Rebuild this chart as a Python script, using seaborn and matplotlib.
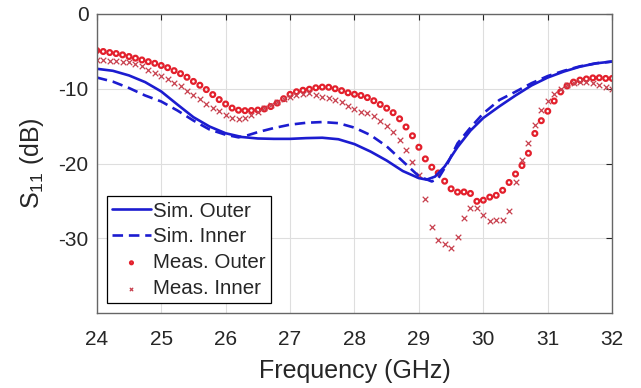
import matplotlib
matplotlib.use('Agg')
import matplotlib.pyplot as plt
import seaborn as sns

# --- measured S11 (every 0.1 GHz)
freq_meas = [24.0, 24.1, 24.2, 24.3, 24.4, 24.5, 24.6, 24.7, 24.8, 24.9,
             25.0, 25.1, 25.2, 25.3, 25.4, 25.5, 25.6, 25.7, 25.8, 25.9,
             26.0, 26.1, 26.2, 26.3, 26.4, 26.5, 26.6, 26.7, 26.8, 26.9,
             27.0, 27.1, 27.2, 27.3, 27.4, 27.5, 27.6, 27.7, 27.8, 27.9,
             28.0, 28.1, 28.2, 28.3, 28.4, 28.5, 28.6, 28.7, 28.8, 28.9,
             29.0, 29.1, 29.2, 29.3, 29.4, 29.5, 29.6, 29.7, 29.8, 29.9,
             30.0, 30.1, 30.2, 30.3, 30.4, 30.5, 30.6, 30.7, 30.8, 30.9,
             31.0, 31.1, 31.2, 31.3, 31.4, 31.5, 31.6, 31.7, 31.8, 31.9,
             32.0]
meas_outer = [-4.89, -5.02, -5.16, -5.29, -5.47, -5.69, -5.91, -6.15, -6.38, -6.60,
              -6.89, -7.18, -7.58, -7.98, -8.46, -9.02, -9.53, -10.11, -10.78, -11.45,
              -12.04, -12.58, -12.87, -12.93, -12.91, -12.85, -12.70, -12.38, -11.91, -11.33,
              -10.75, -10.40, -10.20, -10.06, -9.87, -9.78, -9.80, -10.00, -10.25, -10.54,
              -10.74, -10.90, -11.18, -11.60, -12.10, -12.60, -13.20, -14.02, -15.11, -16.29,
              -17.82, -19.38, -20.49, -21.26, -22.36, -23.38, -23.82, -23.80, -24.00, -25.05,
              -24.90, -24.49, -24.25, -23.58, -22.53, -21.40, -20.27, -18.62, -15.98, -14.27,
              -13.00, -11.64, -10.42, -9.62, -9.11, -8.84, -8.69, -8.55, -8.53, -8.62,
              -8.62]
meas_inner = [-6.15, -6.20, -6.24, -6.29, -6.36, -6.48, -6.71, -6.98, -7.47, -7.85,
              -8.25, -8.69, -9.20, -9.66, -10.25, -10.86, -11.42, -12.00, -12.53, -13.00,
              -13.53, -13.85, -14.10, -13.93, -13.55, -13.10, -12.60, -12.20, -11.80, -11.40,
              -11.10, -10.80, -10.65, -10.60, -10.89, -11.16, -11.24, -11.47, -11.78, -12.27,
              -12.71, -13.11, -13.29, -13.64, -14.27, -15.02, -15.82, -16.80, -18.13, -19.80,
              -21.50, -24.71, -28.50, -30.27, -30.71, -31.30, -29.85, -27.30, -25.93, -25.93,
              -26.88, -27.70, -27.53, -27.53, -26.30, -22.53, -19.56, -17.24, -14.82, -12.89,
              -11.60, -10.73, -10.08, -9.55, -9.20, -9.05, -9.06, -9.20, -9.45, -9.70,
              -9.98]

# --- simulated S11
freq_sim_outer = [24.0, 24.25, 24.5, 24.75, 25.0, 25.25, 25.5, 25.75, 26.0, 26.25,
                  26.5, 26.75, 27.0, 27.25, 27.5, 27.75, 28.0, 28.25, 28.5, 28.75,
                  29.0, 29.12, 29.25, 29.4, 29.6, 29.8, 30.0, 30.25, 30.5, 30.75,
                  31.0, 31.25, 31.5, 31.75, 32.0]
sim_outer = [-7.33, -7.60, -8.22, -9.11, -10.36, -12.10, -13.80, -15.05, -15.95, -16.45,
             -16.65, -16.70, -16.70, -16.60, -16.55, -16.75, -17.40, -18.40, -19.60, -21.00,
             -21.95, -22.15, -21.75, -20.40, -17.80, -15.60, -13.90, -12.35, -10.90, -9.55,
             -8.50, -7.70, -7.05, -6.60, -6.36]
freq_sim_inner = [24.0, 24.25, 24.5, 24.75, 25.0, 25.25, 25.5, 25.75, 26.0, 26.2,
                  26.35, 26.5, 26.75, 27.0, 27.25, 27.5, 27.75, 28.0, 28.25, 28.5,
                  28.75, 29.0, 29.2, 29.3, 29.45, 29.6, 29.8, 30.0, 30.25, 30.5,
                  30.75, 31.0, 31.25, 31.5, 31.75, 32.0]
sim_inner = [-8.50, -9.05, -9.90, -10.90, -11.70, -12.90, -14.25, -15.45, -16.15, -16.50,
             -16.20, -15.80, -15.25, -14.80, -14.55, -14.45, -14.60, -15.20, -16.20, -17.70,
             -19.70, -21.70, -22.40, -22.00, -19.90, -17.30, -15.20, -13.30, -11.50, -10.40,
             -9.25, -8.30, -7.60, -7.00, -6.60, -6.36]

sns.set_style('white')
plt.rcParams['font.family'] = ['Liberation Sans', 'DejaVu Sans']
plt.rcParams['axes.unicode_minus'] = False

fig = plt.figure(figsize=(6.41, 3.88), dpi=100)
ax = fig.add_axes([0.151, 0.193, 0.804, 0.771])

blue = '#1c1cd0'
red = '#e3202c'
red_x = '#c8404e'

sns.lineplot(x=freq_sim_outer, y=sim_outer, ax=ax, color=blue, linewidth=1.9,
             label='Sim. Outer')
sns.lineplot(x=freq_sim_inner, y=sim_inner, ax=ax, color=blue, linewidth=1.9,
             linestyle=(0, (4, 2.2)), label='Sim. Inner')
sns.scatterplot(x=freq_meas, y=meas_outer, ax=ax, marker='o', s=12,
                facecolor='none', edgecolor=red, linewidth=1.6, label='Meas. Outer')
sns.scatterplot(x=freq_meas, y=meas_inner, ax=ax, marker='x', s=16,
                color=red_x, linewidth=0.9, label='Meas. Inner')

ax.set_xlim(24, 32)
ax.set_ylim(-40, 0)
ax.set_xticks(range(24, 33))
ax.set_yticks([0, -10, -20, -30])
ax.grid(True, color='#dedede', linewidth=0.8)
ax.set_axisbelow(True)
ax.tick_params(direction='in', top=True, right=True, length=4, width=0.8,
               labelsize=15, colors='#262626')
ax.tick_params(axis='x', pad=12)
ax.tick_params(axis='y', pad=6)
for sp in ax.spines.values():
    sp.set_color('#666666')
    sp.set_linewidth(1.0)

ax.set_xlabel('Frequency (GHz)', fontsize=18, color='#262626', labelpad=7)
ax.set_ylabel(r'S$_{\mathregular{11}}$ (dB)', fontsize=18, color='#262626', labelpad=9)

leg = ax.legend(loc='lower left', bbox_to_anchor=(0.0194, 0.0334), borderaxespad=0,
                fontsize=14.8, frameon=True, fancybox=False, edgecolor='black',
                framealpha=1, handlelength=1.9, handletextpad=0.1, labelspacing=0.33,
                borderpad=0.25, markerscale=0.6)
leg.get_frame().set_linewidth(0.9)

fig.savefig('out.png', dpi=100)
